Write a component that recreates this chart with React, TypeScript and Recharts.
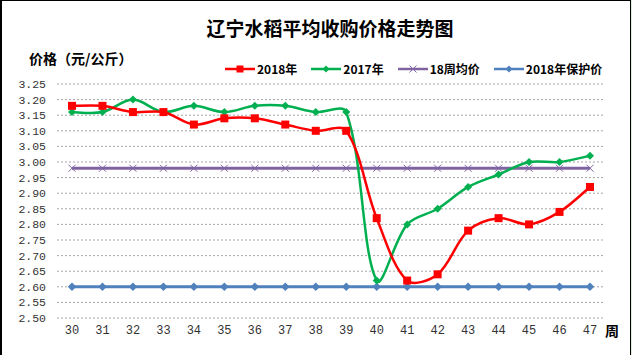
import React from 'react';
import { LineChart, Line, XAxis, YAxis, CartesianGrid, Legend } from 'recharts';

const weeks = ['30', '31', '32', '33', '34', '35', '36', '37', '38', '39', '40', '41', '42', '43', '44', '45', '46', '47'];
const price2018 = [3.18, 3.18, 3.16, 3.16, 3.12, 3.14, 3.14, 3.12, 3.10, 3.10, 2.82, 2.62, 2.64, 2.78, 2.82, 2.80, 2.84, 2.92];
const price2017 = [3.16, 3.16, 3.20, 3.16, 3.18, 3.16, 3.18, 3.18, 3.16, 3.16, 2.62, 2.80, 2.85, 2.92, 2.96, 3.00, 3.00, 3.02];
const avg18Weeks = [2.98, 2.98, 2.98, 2.98, 2.98, 2.98, 2.98, 2.98, 2.98, 2.98, 2.98, 2.98, 2.98, 2.98, 2.98, 2.98, 2.98, 2.98];
const floor2018 = [2.60, 2.60, 2.60, 2.60, 2.60, 2.60, 2.60, 2.60, 2.60, 2.60, 2.60, 2.60, 2.60, 2.60, 2.60, 2.60, 2.60, 2.60];
const yTicks = [2.5, 2.55, 2.6, 2.65, 2.7, 2.75, 2.8, 2.85, 2.9, 2.95, 3.0, 3.05, 3.1, 3.15, 3.2, 3.25];

const seriesNames = ['2018年', '2017年', '18周均价', '2018年保护价'];
const colors = ['#FF0000', '#00B050', '#8064A2', '#4F81BD'];

const data = weeks.map((w, i) => ({
  week: w,
  s2018: price2018[i],
  s2017: price2017[i],
  avg: avg18Weeks[i],
  floor: floor2018[i],
}));

// Excel-like smooth curve (chord-length weighted Catmull-Rom)
const smoothCurve: any = (context: any) => {
  let pts: number[][] = [];
  const dist = (a: number[], b: number[]) => Math.hypot(b[0] - a[0], b[1] - a[1]) || 1e-6;
  return {
    areaStart() {},
    areaEnd() {},
    lineStart() { pts = []; },
    point(x: number, y: number) { pts.push([+x, +y]); },
    lineEnd() {
      const n = pts.length;
      if (!n) return;
      context.moveTo(pts[0][0], pts[0][1]);
      for (let i = 0; i < n - 1; i++) {
        const p0 = pts[i - 1] || pts[i];
        const p1 = pts[i];
        const p2 = pts[i + 1];
        const p3 = pts[i + 2] || pts[i + 1];
        const d01 = i > 0 ? dist(p0, p1) : 0;
        const d12 = dist(p1, p2);
        const d23 = i + 2 < n ? dist(p2, p3) : 0;
        const f1 = i > 0 ? d12 / (d01 + d12) / 3 : 1 / 6;
        const f2 = i + 2 < n ? d12 / (d12 + d23) / 3 : 1 / 6;
        const c1x = p1[0] + (p2[0] - p0[0]) * f1;
        const c1y = p1[1] + (p2[1] - p0[1]) * f1;
        const c2x = p2[0] - (p3[0] - p1[0]) * f2;
        const c2y = p2[1] - (p3[1] - p1[1]) * f2;
        context.bezierCurveTo(c1x, c1y, c2x, c2y, p2[0], p2[1]);
      }
    },
  };
};

const SquareDot = (props: any) => {
  const { cx, cy } = props;
  if (cx == null || cy == null) return null;
  return <rect x={cx - 4} y={cy - 4} width={8} height={8} fill={colors[0]} />;
};
const makeDiamond = (color: string, r: number) => (props: any) => {
  const { cx, cy } = props;
  if (cx == null || cy == null) return null;
  return <polygon points={`${cx},${cy - r} ${cx + r},${cy} ${cx},${cy + r} ${cx - r},${cy}`} fill={color} />;
};
const GreenDot = makeDiamond(colors[1], 4);
const BlueDot = makeDiamond(colors[3], 4.2);
const CrossDot = (props: any) => {
  const { cx, cy } = props;
  if (cx == null || cy == null) return null;
  return (
    <g stroke={colors[2]} strokeWidth={1}>
      <line x1={cx - 3.5} y1={cy - 3.5} x2={cx + 3.5} y2={cy + 3.5} />
      <line x1={cx - 3.5} y1={cy + 3.5} x2={cx + 3.5} y2={cy - 3.5} />
    </g>
  );
};

const legendIcon = (i: number) => {
  const c = colors[i];
  return (
    <svg width={30} height={10} style={{ marginRight: 2 }}>
      <line x1={0} y1={5} x2={30} y2={5} stroke={c} strokeWidth={2.5} />
      {i === 0 && <rect x={11.5} y={1.5} width={7} height={7} fill={c} />}
      {(i === 1 || i === 3) && <polygon points="15,1.5 18.5,5 15,8.5 11.5,5" fill={c} />}
      {i === 2 && (
        <g stroke={c} strokeWidth={1}>
          <line x1={11.5} y1={1.5} x2={18.5} y2={8.5} />
          <line x1={11.5} y1={8.5} x2={18.5} y2={1.5} />
        </g>
      )}
    </svg>
  );
};

const renderLegend = () => (
  <div style={{ display: 'flex', alignItems: 'center', fontFamily: '"Noto Sans CJK SC", sans-serif', fontWeight: 700, fontSize: 12, color: '#000' }}>
    {seriesNames.map((n, i) => (
      <div key={n} style={{ display: 'flex', alignItems: 'center', marginRight: 14 }}>
        {legendIcon(i)}
        <span>{n}</span>
      </div>
    ))}
  </div>
);

export default function App() {
  return (
    <div style={{ position: 'absolute', left: 0, top: 0, width: 632, height: 355, background: '#fff', overflow: 'hidden' }}>
      <style>{'body{margin:0;}'}</style>
      <LineChart width={632} height={355} data={data} margin={{ top: 84, right: 27, bottom: 7, left: 0 }}>
        <CartesianGrid vertical={false} stroke="#A6A6A6" strokeDasharray="2 2" />
        <XAxis
          dataKey="week"
          axisLine={false}
          tickLine={false}
          tickSize={3}
          tickMargin={4}
          height={30}
          padding={{ left: 15, right: 15 }}
          tick={{ fill: '#333', fontSize: 12, fontFamily: '"Liberation Mono", monospace' }}
          interval={0}
        />
        <YAxis
          width={57}
          domain={[2.5, 3.25]}
          ticks={yTicks}
          axisLine={false}
          tickLine={false}
          tickMargin={5}
          tickFormatter={(v: number) => v.toFixed(2)}
          tick={{ fill: '#333', fontSize: 11.5, fontFamily: '"Liberation Mono", monospace' }}
          interval={0}
        />
        <Legend
          content={renderLegend}
          layout="horizontal"
          verticalAlign="middle"
          wrapperStyle={{ position: 'absolute', top: 60, left: 225, width: 420 }}
        />
        <Line dataKey="floor" name={seriesNames[3]} stroke={colors[3]} strokeWidth={3} dot={BlueDot} isAnimationActive={false} type="linear" />
        <Line dataKey="avg" name={seriesNames[2]} stroke={colors[2]} strokeWidth={3} dot={CrossDot} isAnimationActive={false} type="linear" />
        <Line dataKey="s2017" name={seriesNames[1]} stroke={colors[1]} strokeWidth={2.5} dot={GreenDot} isAnimationActive={false} type={smoothCurve} />
        <Line dataKey="s2018" name={seriesNames[0]} stroke={colors[0]} strokeWidth={2.5} dot={SquareDot} isAnimationActive={false} type={smoothCurve} />
      </LineChart>
      <div style={{ position: 'absolute', left: 0, top: 16, width: 660, textAlign: 'center', fontFamily: '"Noto Sans CJK SC", sans-serif', fontWeight: 700, fontSize: 19, color: '#000', lineHeight: '24px' }}>
        辽宁水稻平均收购价格走势图
      </div>
      <div style={{ position: 'absolute', left: 29, top: 48, fontFamily: '"Noto Sans CJK SC", sans-serif', fontWeight: 700, fontSize: 14, color: '#000', lineHeight: '20px' }}>
        价格（元/公斤）
      </div>
      <div style={{ position: 'absolute', left: 605, top: 320, fontFamily: '"Noto Sans CJK SC", sans-serif', fontWeight: 700, fontSize: 14, color: '#000', lineHeight: '20px' }}>
        周
      </div>
      <div style={{ position: 'absolute', left: 0, top: 0, width: 631, height: 360, boxSizing: 'border-box', borderLeft: '2px solid #000', borderTop: '1px solid #000', borderRight: '1px solid #000', pointerEvents: 'none' }} />
      <div style={{ position: 'absolute', left: 631, top: 0, width: 1, height: 355, background: '#E2EFDA' }} />
    </div>
  );
}
